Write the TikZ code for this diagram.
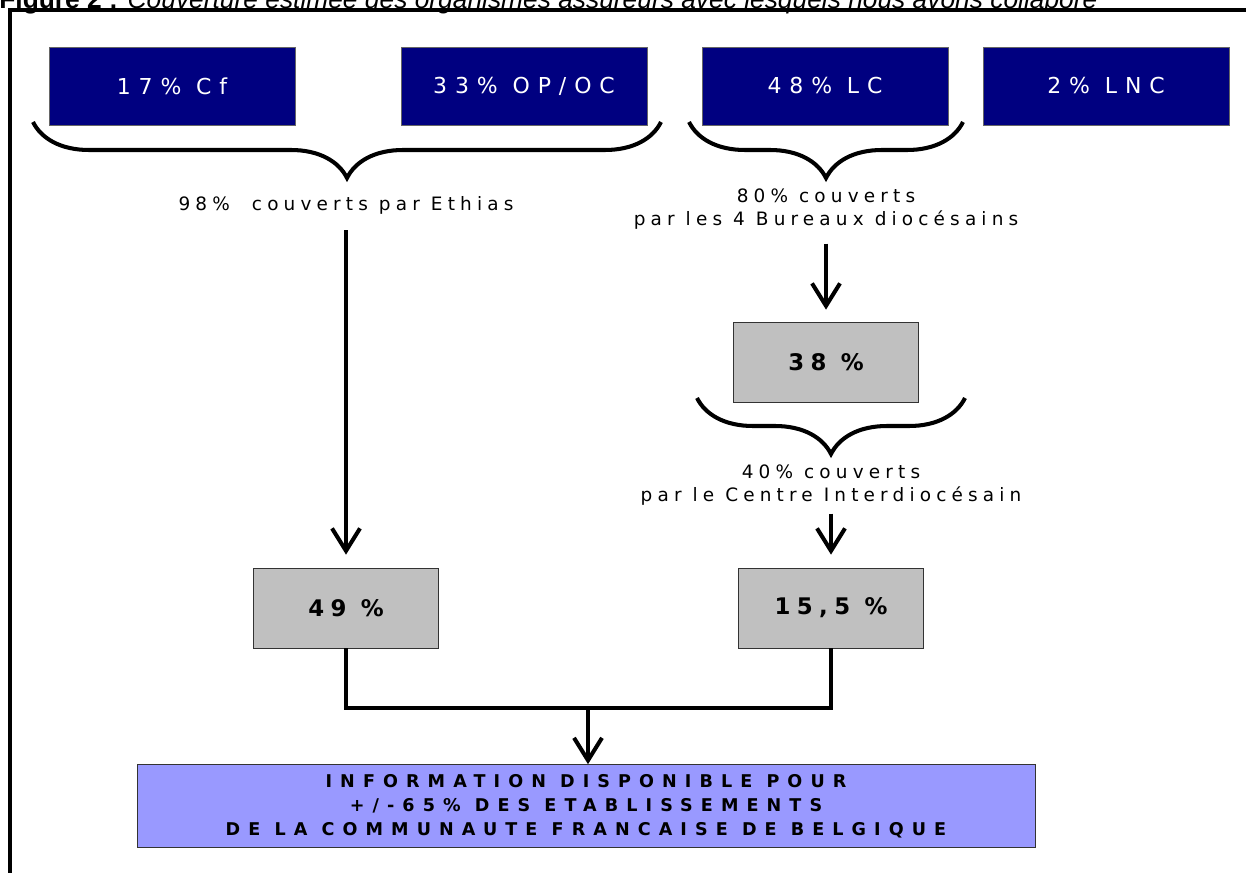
\documentclass[tikz,border=0pt]{standalone}
\usepackage{fontspec}
\usetikzlibrary{arrows.meta,decorations.pathreplacing}

\newfontfamily\spaced{DejaVu Sans}[LetterSpace=28]
\newfontfamily\boxfont{DejaVu Sans}[LetterSpace=36]
\newfontfamily\widecaps{DejaVu Sans}[LetterSpace=46]
\newfontfamily\captionfont{Liberation Sans}

\definecolor{navyblue}{RGB}{0,0,128}
\definecolor{silver}{RGB}{192,192,192}
\definecolor{lavender}{RGB}{153,153,255}

\begin{document}
\begin{tikzpicture}[x=0.02cm, y=-0.02cm,
  topbox/.style={draw=black!60, fill=navyblue, text=white, minimum width=4.92cm, minimum height=1.56cm, font=\boxfont\fontsize{12.5}{14}\selectfont},
  greybox/.style={draw=black!80, fill=silver, minimum width=3.7cm, minimum height=1.6cm, font=\spaced\bfseries\fontsize{13}{15}\selectfont},
  note/.style={align=center, font=\spaced\fontsize{10.5}{13.3}\selectfont},
  curly/.style={decorate, decoration={brace, amplitude=1.12cm}, line width=2.3pt},
  flow/.style={line width=2.3pt, -{Straight Barb[length=0.45cm, width=0.56cm]}},
  link/.style={line width=2.3pt, line join=miter}]

  \useasboundingbox (0,0) rectangle (1246,872);

  % caption and frame
  \node[anchor=base west, inner sep=0pt, font=\captionfont\fontsize{15}{17}\selectfont] (caption) at (-1,9)
    {\textbf{Figure 2 :} \textit{Couverture estimée des organismes assureurs avec lesquels nous avons collaboré}};
  \draw[line width=2.3pt] (1260,10) -- (10,10) -- (10,890);

  % organismes
  \node[topbox] (cf)   at (172,86)  {17\% Cf};
  \node[topbox] (opoc) at (524,86)  {33\% OP/OC};
  \node[topbox] (lc)   at (825,86)  {48\% LC};
  \node[topbox] (lnc)  at (1106,86) {2\% LNC};

  % braces
  \draw[curly] (661,122) -- (33,122);
  \draw[curly] (963,122) -- (689,122);
  \draw[curly] (965,398) -- (697,398);

  \node[note] (ethias)  at (346,205) {98\%\ \ couverts par Ethias};
  \node[note] (bureaux) at (826,209) {80\% couverts\\par les 4 Bureaux diocésains};
  \node[greybox] (p38)  at (826,362) {38 \%};
  \node[note] (centre)  at (831,485) {40\% couverts\\par le Centre Interdiocésain};

  \node[greybox] (p49)  at (346,608) {49 \%};
  \node[greybox] (p155) at (831,608) {15,5 \%};

  \node[draw=black!80, fill=lavender, minimum width=17.96cm, minimum height=1.66cm, align=center,
    font=\widecaps\bfseries\fontsize{10}{13.6}\selectfont] (info) at (586,806)
    {INFORMATION DISPONIBLE POUR\\+/-65\% DES ETABLISSEMENTS\\DE LA COMMUNAUTE FRANCAISE DE BELGIQUE};

  % arrows
  \draw[flow, shorten <=0.2cm, shorten >=0.26cm] (ethias) -- (p49);
  \draw[flow, shorten <=0.16cm, shorten >=0.24cm] (bureaux) -- (p38);
  \draw[flow, shorten <=0.04cm, shorten >=0.26cm] (centre) -- (p155);

  \coordinate (join) at (588,708);
  \draw[link] (p49.south) |- (join) -| (p155.south);
  \draw[flow] (join) -- (join |- info.north);

\end{tikzpicture}
\end{document}
